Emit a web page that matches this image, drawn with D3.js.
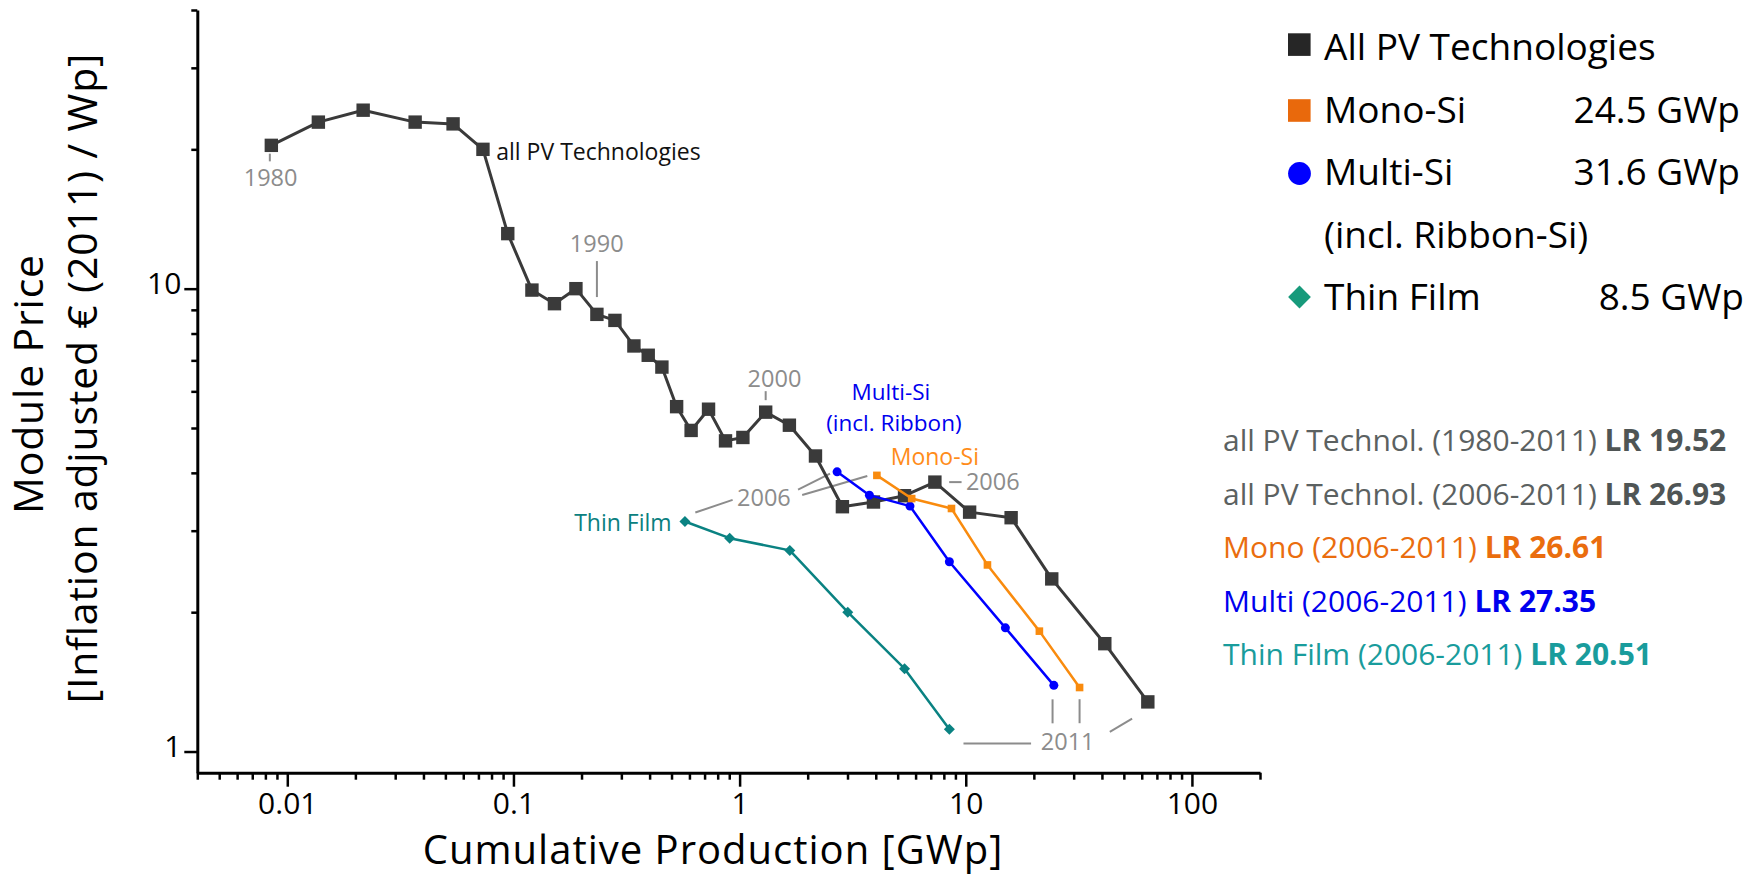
<!DOCTYPE html>
<html><head><meta charset="utf-8">
<script src="https://cdn.jsdelivr.net/npm/d3@7"></script>
<style>
html,body{margin:0;padding:0;background:#fff;}
svg{display:block;font-family:"Open Sans",sans-serif;}
</style></head><body>
<svg id="chart" width="1757" height="876"></svg>
<script>
// ---------------- DATA ----------------
const allYears = [1980,1981,1982,1983,1984,1985,1986,1987,1988,1989,1990,1991,1992,1993,1994,1995,
                  1996,1997,1998,1999,2000,2001,2002,2003,2004,2005,2006,2007,2008,2009,2010,2011];
const allPV_x = [0.0085,0.01372,0.02165,0.03675,0.05408,0.07331,0.09437,0.1207,0.1518,0.1889,0.2339,0.2810,
                 0.3409,0.3944,0.4533,0.5266,0.6104,0.7288,0.8663,1.034,1.304,1.660,2.165,2.848,3.908,
                 5.362,7.302,10.40,15.87,24.00,41.19,63.83];
const allPV_y = [20.4,22.9,24.3,22.9,22.7,20.0,13.15,9.93,9.28,10.0,8.80,8.54,7.52,7.18,6.77,5.56,4.94,
                 5.49,4.69,4.77,5.41,5.07,4.35,3.38,3.46,3.57,3.82,3.29,3.20,2.36,1.71,1.28];
const techYears = [2006,2007,2008,2009,2010,2011];
const mono_x  = [4.046,5.766,8.646,12.47,21.16,31.86];
const mono_y  = [3.95,3.52,3.35,2.53,1.82,1.375];
const multi_x = [2.698,3.749,5.667,8.463,14.97,24.52];
const multi_y = [4.02,3.58,3.39,2.57,1.85,1.39];
const thin_x  = [0.573,0.904,1.667,3.008,5.362,8.463];
const thin_y  = [3.14,2.89,2.72,2.00,1.51,1.117];

const xMajor = [0.01,0.1,1,10,100];
const xMajorLabels = ["0.01","0.1","1","10","100"];
const yMajor = [1,10];
const yMajorLabels = ["1","10"];

const legendLabels = ["All PV Technologies","Mono-Si","Multi-Si","(incl. Ribbon-Si)","Thin Film"];
const legendValues = ["","24.5 GWp","31.6 GWp","","8.5 GWp"];
const lrLabels = ["all PV Technol. (1980-2011) ","all PV Technol. (2006-2011) ","Mono (2006-2011) ","Multi (2006-2011) ","Thin Film (2006-2011) "];
const lrValues = ["LR 19.52","LR 26.93","LR 26.61","LR 27.35","LR 20.51"];

// ---------------- SETUP ----------------
const svg = d3.select("#chart");
const FONT = "'Open Sans', sans-serif";
const x = d3.scaleLog().domain([0.004, 200]).range([197.3, 1260]);
const y = d3.scaleLog().domain([0.9, 40]).range([772.7, 10]);

const C = {
  all:"#3a3a3a", mono:"#f98b0e", multi:"#0000ff", thin:"#0a8282",
  ann:"#8c8c8c"
};

// ---------------- AXES ----------------
const xMinor = x.ticks().filter(t => !xMajor.some(m => Math.abs(m - t) / m < 1e-6));
const yMinor = y.ticks().filter(t => t >= 1.5 && !yMajor.some(m => Math.abs(m - t) / m < 1e-6));

const axY = 772.7;
const gxMinor = svg.append("g").attr("transform", `translate(0,${axY})`)
  .call(d3.axisBottom(x).tickValues(xMinor).tickFormat("").tickSize(7).tickSizeOuter(0));
gxMinor.select(".domain").remove();
const gx = svg.append("g").attr("transform", `translate(0,${axY})`)
  .call(d3.axisBottom(x).tickValues(xMajor).tickFormat((d,i)=>xMajorLabels[i]).tickSize(14).tickSizeOuter(0));
gx.selectAll(".tick text").attr("y", 41).attr("dy", 0)
  .attr("font-size", 30).attr("font-family", FONT).attr("fill", "#000");

const axX = 197.3;
const gyMinor = svg.append("g").attr("transform", `translate(${axX},0)`)
  .call(d3.axisLeft(y).tickValues(yMinor).tickFormat("").tickSize(6).tickSizeOuter(0));
gyMinor.select(".domain").remove();
const gy = svg.append("g").attr("transform", `translate(${axX},0)`)
  .call(d3.axisLeft(y).tickValues(yMajor).tickFormat((d,i)=>yMajorLabels[i]).tickSize(13).tickPadding(3).tickSizeOuter(0));
gy.selectAll(".tick text").attr("dy", "0.175em")
  .attr("font-size", 30).attr("font-family", FONT).attr("fill", "#000");

svg.selectAll(".domain").attr("stroke", "#000").attr("stroke-width", 3);
svg.selectAll(".tick line").attr("stroke", "#000").attr("stroke-width", 2.5);

// axis titles
svg.append("text").attr("x", 713).attr("y", 864).attr("text-anchor", "middle")
  .attr("font-size", 40).attr("letter-spacing", 1).attr("fill", "#000")
  .text("Cumulative Production [GWp]");
svg.append("text").attr("transform", "translate(43,384) rotate(-90)").attr("text-anchor", "middle")
  .attr("font-size", 41).attr("letter-spacing", 0.8).attr("fill", "#000").text("Module Price");
svg.append("text").attr("transform", "translate(97,378) rotate(-90)").attr("text-anchor", "middle")
  .attr("font-size", 41).attr("letter-spacing", 0.8).attr("fill", "#000").text("[Inflation adjusted € (2011) / Wp]");

// ---------------- SERIES ----------------
const zip = (xs, ys) => xs.map((v, i) => [v, ys[i]]);
const allPts = zip(allPV_x, allPV_y);
const monoPts = zip(mono_x, mono_y);
const multiPts = zip(multi_x, multi_y);
const thinPts = zip(thin_x, thin_y);
const line = d3.line().x(d => x(d[0])).y(d => y(d[1]));
const P = d => [x(d[0]), y(d[1])];

const ann = svg.append("g");
const series = svg.append("g");

function drawLine(pts, color, w) {
  series.append("path").attr("d", line(pts)).attr("fill", "none")
    .attr("stroke", color).attr("stroke-width", w).attr("stroke-linejoin", "round");
}
// All PV
drawLine(allPts, C.all, 3);
series.selectAll(null).data(allPts).join("rect")
  .attr("x", d => x(d[0]) - 6.7).attr("y", d => y(d[1]) - 6.7)
  .attr("width", 13.4).attr("height", 13.4).attr("fill", C.all);
// Thin film
drawLine(thinPts, C.thin, 2.5);
series.selectAll(null).data(thinPts).join("path")
  .attr("transform", d => `translate(${x(d[0])},${y(d[1])})`)
  .attr("d", "M0,-5.5L5.5,0L0,5.5L-5.5,0Z").attr("fill", C.thin);
// Multi
drawLine(multiPts, C.multi, 2.5);
series.selectAll(null).data(multiPts).join("circle")
  .attr("cx", d => x(d[0])).attr("cy", d => y(d[1])).attr("r", 4.5).attr("fill", C.multi);
// Mono
drawLine(monoPts, C.mono, 2.5);
series.selectAll(null).data(monoPts).join("rect")
  .attr("x", d => x(d[0]) - 3.8).attr("y", d => y(d[1]) - 3.8)
  .attr("width", 7.6).attr("height", 7.6).attr("fill", C.mono);

// ---------------- ANNOTATIONS ----------------
function seg(p, a, b, color) {
  ann.append("line").attr("x1", p[0] + a[0]).attr("y1", p[1] + a[1])
    .attr("x2", p[0] + b[0]).attr("y2", p[1] + b[1])
    .attr("stroke", color || C.ann).attr("stroke-width", 2);
}
function label(p, dx, dy, txt, color, anchor, size) {
  ann.append("text").attr("x", p[0] + dx).attr("y", p[1] + dy)
    .attr("text-anchor", anchor || "middle").attr("font-size", size || 23.5)
    .attr("fill", color || C.ann).text(txt);
}
const iYear = yr => allYears.indexOf(yr);
const p1980 = P(allPts[iYear(1980)]);
seg(p1980, [-1.5, 8.3], [-1.5, 16]);
label(p1980, -0.7, 41, "1980");
const p1990 = P(allPts[iYear(1990)]);
seg(p1990, [0, -53.3], [0, -17.3]);
label(p1990, -0.2, -62.7, "1990");
const p1985 = P(allPts[iYear(1985)]);
label(p1985, 13.3, 10.7, "all PV Technologies", "#111", "start", 23);
const p2000 = P(allPts[iYear(2000)]);
seg(p2000, [0, -21], [0, -12]);
label(p2000, 8.8, -25.4, "2000");
const p2006 = P(allPts[iYear(2006)]);
seg(p2006, [14.3, 0], [26.7, 0]);
label(p2006, 31, 8, "2006", C.ann, "start");

const m0 = P(multiPts[0]), o0 = P(monoPts[0]), t0 = P(thinPts[0]);
label(m0, 53.8, -72, "Multi-Si", "#0000ee", "middle", 22.5);
label(m0, 56.8, -40.6, "(incl. Ribbon)", "#0000ee", "middle", 22.5);
label(o0, 58, -10, "Mono-Si", "#ff8c1a", "middle", 23);
label(t0, -13.3, 9.4, "Thin Film", "#0a8080", "end", 23);
label(t0, 79, -15.6, "2006");
seg(t0, [10.4, -9], [47.7, -21.6]);
seg(m0, [-39, 17.7], [-7.1, 1.7]);
seg(o0, [-74.7, 19.7], [-9.6, 0.7]);

const m5 = P(multiPts[5]), o5 = P(monoPts[5]), t5 = P(thinPts[5]), a11 = P(allPts[iYear(2011)]);
seg(t5, [14.1, 14.3], [81.7, 14.3]);
seg(m5, [-1.3, 14], [-1.3, 38]);
seg(o5, [0, 11.7], [0, 35.7]);
seg(a11, [-38, 30], [-15.7, 16.7]);
label(m5, 13.8, 64.7, "2011");

// ---------------- LEGEND ----------------
const lg = svg.append("g");
const legBase = [60, 122.5, 185, 247.5, 310];
lg.selectAll(null).data(legendLabels).join("text")
  .attr("x", 1324).attr("y", (d, i) => legBase[i]).attr("font-size", 37).attr("fill", "#000")
  .text(d => d);
lg.selectAll(null).data(legendValues).join("text")
  .attr("x", (d, i) => i === 4 ? 1744 : 1740).attr("y", (d, i) => legBase[i])
  .attr("text-anchor", "end").attr("font-size", 37).attr("fill", "#000")
  .text(d => d);
lg.append("rect").attr("x", 1288).attr("y", 33.3).attr("width", 22.6).attr("height", 22.6).attr("fill", "#262626");
lg.append("rect").attr("x", 1288).attr("y", 99.2).attr("width", 22.6).attr("height", 22.6).attr("fill", "#e9690c");
lg.append("circle").attr("cx", 1299.5).attr("cy", 173.5).attr("r", 11.4).attr("fill", "#0000ff");
lg.append("path").attr("transform", "translate(1299.5,297)").attr("d", "M0,-11.4L11.4,0L0,11.4L-11.4,0Z").attr("fill", "#179a7b");

// ---------------- LEARNING RATES ----------------
const lrBase = [450.7, 505, 558.3, 611.7, 665];
const lrColor = ["#5b6161", "#5b6161", "#ea6d0e", "#0000ee", "#199c9c"];
const lrBold = ["#4f5555", "#4f5555", "#ea6d0e", "#0000ee", "#199c9c"];
lrLabels.forEach((t, i) => {
  const tx = svg.append("text").attr("x", 1223).attr("y", lrBase[i]).attr("font-size", 30)
    .attr("fill", lrColor[i]).attr("xml:space", "preserve");
  tx.append("tspan").text(t);
  tx.append("tspan").attr("font-weight", 700).attr("fill", lrBold[i]).text(lrValues[i]);
});
</script>
</body></html>
